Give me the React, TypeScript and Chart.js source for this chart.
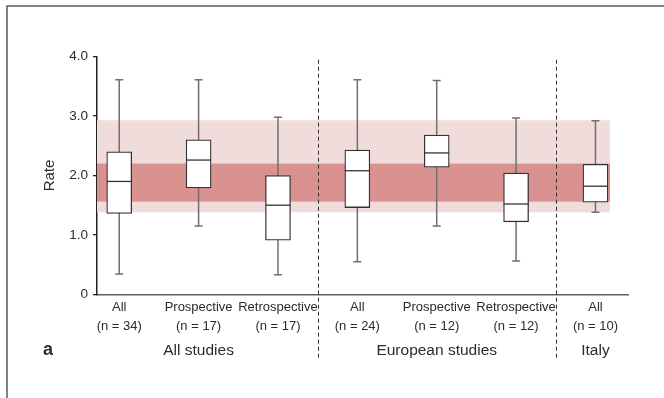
import React, { useEffect, useRef } from 'react';
import { Chart, registerables } from 'chart.js';

Chart.register(...registerables);

// ---- data ----
const categories = ['All', 'Prospective', 'Retrospective', 'All', 'Prospective', 'Retrospective', 'All'];
const sampleSizes = [34, 17, 17, 24, 12, 12, 10];
const groupNames = ['All studies', 'European studies', 'Italy'];
const groupSizes = [3, 3, 1];
const whiskerLow = [0.34, 1.15, 0.33, 0.55, 1.15, 0.56, 1.38];
const quartile1 = [1.36, 1.79, 0.91, 1.46, 2.14, 1.22, 1.55];
const medians = [1.9, 2.26, 1.5, 2.08, 2.38, 1.52, 1.82];
const quartile3 = [2.4, 2.6, 2.0, 2.43, 2.68, 2.04, 2.19];
const whiskerHigh = [3.61, 3.61, 2.98, 3.61, 3.6, 2.97, 2.92];
const outerBand = [1.38, 2.93];
const innerBand = [1.56, 2.2];
const yTickValues = [0, 1, 2, 3, 4];
const yTickLabels = ['0', '1.0', '2.0', '3.0', '4.0'];
const axisTitle = 'Rate';
const panelLetter = 'a';

const FONT = '"Liberation Sans", Arial, Helvetica, sans-serif';
const TEXT = '#2b2b2b';
const BOX_W = 25;

export default function App() {
  const ref = useRef<HTMLCanvasElement>(null);

  useEffect(() => {
    const canvas = ref.current;
    if (!canvas) return;

    const decor = {
      id: 'boxplotDecor',
      beforeDraw(chart: any) {
        const ctx = chart.ctx;
        ctx.save();
        ctx.strokeStyle = '#5a5a5a';
        ctx.lineWidth = 1.5;
        ctx.beginPath();
        ctx.moveTo(7, 398);
        ctx.lineTo(7, 6);
        ctx.lineTo(664, 6);
        ctx.stroke();
        ctx.restore();
      },
      beforeDatasetsDraw(chart: any) {
        const ctx = chart.ctx;
        const xs = chart.scales.x;
        const ys = chart.scales.y;
        const left = chart.chartArea.left;
        const right = xs.getPixelForValue(categories.length - 1) + BOX_W / 2 + 2;
        ctx.save();
        const band = (r: number[], color: string) => {
          const t = ys.getPixelForValue(r[1]);
          const b = ys.getPixelForValue(r[0]);
          ctx.fillStyle = color;
          ctx.fillRect(left, t, right - left, b - t);
        };
        band(outerBand, 'rgb(241,220,220)');
        band(innerBand, 'rgb(217,146,144)');
        // whiskers
        ctx.strokeStyle = '#707070';
        ctx.lineWidth = 1.5;
        categories.forEach((_, i) => {
          const x = xs.getPixelForValue(i);
          const yl = ys.getPixelForValue(whiskerLow[i]);
          const yh = ys.getPixelForValue(whiskerHigh[i]);
          ctx.beginPath();
          ctx.moveTo(x, yh);
          ctx.lineTo(x, yl);
          ctx.moveTo(x - 4, yh);
          ctx.lineTo(x + 4, yh);
          ctx.moveTo(x - 4, yl);
          ctx.lineTo(x + 4, yl);
          ctx.stroke();
        });
        ctx.restore();
      },
      afterDatasetsDraw(chart: any) {
        const ctx = chart.ctx;
        const xs = chart.scales.x;
        const ys = chart.scales.y;
        ctx.save();
        ctx.strokeStyle = '#333';
        ctx.lineWidth = 1.3;
        categories.forEach((_, i) => {
          const x = xs.getPixelForValue(i);
          const y = ys.getPixelForValue(medians[i]);
          ctx.beginPath();
          ctx.moveTo(x - BOX_W / 2, y);
          ctx.lineTo(x + BOX_W / 2, y);
          ctx.stroke();
        });
        ctx.restore();
      },
      afterDraw(chart: any) {
        const ctx = chart.ctx;
        const xs = chart.scales.x;
        const top = chart.chartArea.top + 3;
        ctx.save();
        // dividers between groups
        ctx.strokeStyle = '#333';
        ctx.lineWidth = 1;
        ctx.setLineDash([4, 3]);
        let start = 0;
        const centers: number[] = [];
        groupSizes.forEach((n, g) => {
          centers.push(xs.getPixelForValue(start + (n - 1) / 2));
          start += n;
          if (g < groupSizes.length - 1) {
            const x = Math.round(xs.getPixelForValue(start - 0.5)) + 0.5;
            ctx.beginPath();
            ctx.moveTo(x, top);
            ctx.lineTo(x, 359);
            ctx.stroke();
          }
        });
        ctx.setLineDash([]);
        ctx.fillStyle = TEXT;
        ctx.textAlign = 'center';
        ctx.textBaseline = 'middle';
        ctx.font = `15.5px ${FONT}`;
        groupNames.forEach((name, g) => ctx.fillText(name, centers[g], 351));
        ctx.font = `bold 18px ${FONT}`;
        ctx.fillText(panelLetter, 48, 350);
        ctx.restore();
      },
    };

    const chart = new Chart(canvas, {
      type: 'bar',
      data: {
        datasets: [
          {
            data: categories.map((_, i) => ({ x: i, y: [quartile1[i], quartile3[i]] })) as any,
            backgroundColor: '#ffffff',
            borderColor: '#333333',
            borderWidth: 1.3,
            borderSkipped: false,
            barThickness: BOX_W,
          },
        ],
      },
      options: {
        animation: false,
        responsive: false,
        devicePixelRatio: 1,
        events: [],
        layout: { padding: { left: 37, right: 36, top: 56.7, bottom: 61.7 } },
        plugins: { legend: { display: false }, tooltip: { enabled: false } },
        scales: {
          x: {
            type: 'linear',
            offset: false,
            min: -0.28,
            max: 6.41,
            afterBuildTicks: (scale: any) => {
              scale.ticks = categories.map((_, i) => ({ value: i }));
            },
            afterFit: (scale: any) => {
              scale.height = 42;
            },
            grid: { display: false, drawTicks: false, offset: false },
            border: { display: true, color: '#5e5e5e', width: 1.5 },
            ticks: {
              autoSkip: false,
              maxRotation: 0,
              minRotation: 0,
              padding: 3,
              color: TEXT,
              font: { family: FONT, size: 13, lineHeight: 1.5 },
              callback: (v: any) => {
                const i = Math.round(Number(v));
                return [categories[i], `(n = ${sampleSizes[i]})`];
              },
            },
          },
          y: {
            type: 'linear',
            min: 0,
            max: 4,
            afterBuildTicks: (scale: any) => {
              scale.ticks = yTickValues.map((v) => ({ value: v }));
            },
            afterFit: (scale: any) => {
              scale.width = 60;
            },
            grid: { display: true, drawOnChartArea: false, drawTicks: true, tickLength: 4, color: '#222', lineWidth: 1.3 },
            border: { display: true, color: '#222', width: 1.5 },
            ticks: {
              padding: 5,
              color: TEXT,
              font: { family: FONT, size: 13.5 },
              callback: (v: any) => yTickLabels[yTickValues.indexOf(Number(v))],
            },
            title: {
              display: true,
              text: axisTitle,
              color: TEXT,
              font: { family: FONT, size: 15 },
              padding: { top: 4, bottom: 4 },
            },
          },
        },
      },
      plugins: [decor],
    } as any);

    return () => chart.destroy();
  }, []);

  return (
    <div style={{ position: 'absolute', left: 0, top: 0, width: 664, height: 398, background: '#fff' }}>
      <canvas ref={ref} width={664} height={398} style={{ display: 'block', width: 664, height: 398 }} />
    </div>
  );
}
